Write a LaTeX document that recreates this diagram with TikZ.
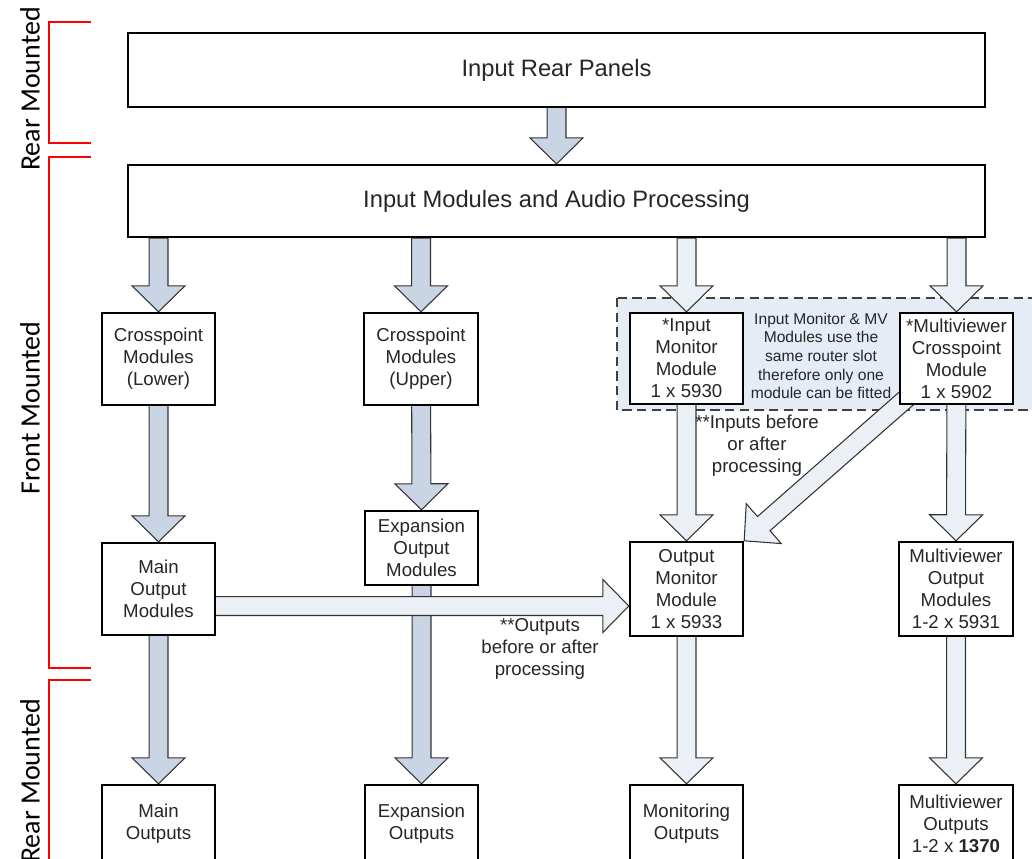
\documentclass[tikz,border=0pt]{standalone}
\usepackage{fontspec}
\setmainfont{Liberation Sans}
\newfontfamily\sidefont{Carlito}
\usetikzlibrary{calc}

\definecolor{darkfill}{HTML}{C9D5E5}
\definecolor{lightfill}{HTML}{EBF0F6}
\definecolor{slotfill}{HTML}{E6ECF6}

\pgfdeclarelayer{background}
\pgfsetlayers{background,main}

% block arrow: fill colour, tail, tip
\newcommand{\fatarrow}[3]{%
  \coordinate (fa-h) at ($(#3)!19.5pt!(#2)$);
  \filldraw[fatline, fill=#1]
    ($(#2)!7.1pt!90:(#3)$) -- ($(fa-h)!7.1pt!90:(#3)$) -- ($(fa-h)!19.9pt!90:(#3)$)
    -- (#3) -- ($(fa-h)!19.9pt!-90:(#3)$) -- ($(fa-h)!7.1pt!-90:(#3)$)
    -- ($(#2)!7.1pt!-90:(#3)$) -- cycle;
}

\begin{document}
\begin{tikzpicture}[x=0.75pt, y=-0.75pt,
    box/.style={draw, line width=1.8pt, fill=white, text=black!85, align=center,
      inner sep=0pt, font=\fontsize{14}{16.5}\selectfont},
    widebox/.style={box, line width=1.6pt, font=\fontsize{17.8}{21}\selectfont},
    boxsize/.style 2 args={minimum width=#1*0.75pt, minimum height=#2*0.75pt},
    remark/.style={align=center, text=black!85, inner sep=0pt,
      font=\fontsize{14}{16.5}\selectfont},
    slotnote/.style={align=center, text=black!85, inner sep=0pt,
      font=\fontsize{11.7}{14}\selectfont},
    mount/.style={rotate=90, inner sep=0pt, font=\sidefont\fontsize{21}{25}\selectfont},
    bracket/.style={red, line width=1.1pt},
    fatline/.style={draw=black!80, line width=0.8pt, line join=miter}]

    \useasboundingbox (0,0) rectangle (1032,859);
    \clip (0,0) rectangle (1032,859);

    % Mounting brackets
    \draw[bracket] (91,22) -- (49,22) -- (49,143) -- (91,143);
    \draw[bracket] (91,157) -- (49,157) -- (49,668) -- (91,668);
    \draw[bracket] (91,680) -- (49,680) -- (49,870);
    \node[mount] (rear1) at (30,89) {Rear Mounted};
    \node[mount] (front) at (30,408) {Front Mounted};
    \node[mount] (rear2) at (30,781) {Rear Mounted};

    % Input side
    \node[widebox, boxsize={857}{74}] (rear) at (556.5,70) {Input Rear Panels};
    \node[widebox, boxsize={857}{72}] (inmod) at (556.5,201) {Input Modules and Audio Processing};

    % Crosspoint row
    \node[box, boxsize={113}{92}] (xlow) at (158.5,359) {Crosspoint\\Modules\\(Lower)};
    \node[box, boxsize={114}{92}] (xup) at (421,359) {Crosspoint\\Modules\\(Upper)};
    \node[box, boxsize={113}{91}] (inmon) at (686.5,358.5) {*Input\\Monitor\\Module\\1 x 5930};
    \node[box, boxsize={113}{91}] (mvx) at (956.5,358.5) {*Multiviewer\\Crosspoint\\Module\\1 x 5902};
    \node[slotnote] (slot) at (821,356) {Input Monitor \& MV\\Modules use the\\same router slot\\therefore only one\\module can be fitted};

    % Output module row
    \node[box, boxsize={113}{92}] (mainout) at (158.5,589) {Main\\Output\\Modules};
    \node[box, boxsize={113}{74}] (expout) at (421.5,548) {Expansion\\Output\\Modules};
    \node[box, boxsize={113}{94}] (outmon) at (686.5,589) {Output\\Monitor\\Module\\1 x 5933};
    \node[box, boxsize={114}{94}] (mvout) at (956,589) {Multiviewer\\Output\\Modules\\1-2 x 5931};
    \node[remark] (innote) at (757,446) {**Inputs before\\or after\\processing};
    \node[remark] (outnote) at (540,649) {**Outputs\\before or after\\processing};

    % Rear outputs
    \node[box, boxsize={113}{77}] (mainop) at (158.5,823.5) {Main\\Outputs};
    \node[box, boxsize={113}{77}] (expop) at (421.5,823.5) {Expansion\\Outputs};
    \node[box, boxsize={113}{77}] (monop) at (686.5,823.5) {Monitoring\\Outputs};
    \node[box, boxsize={114}{77}] (mvop) at (956,823.5) {Multiviewer\\Outputs\\1-2 x \textbf{1370}};

    \begin{pgfonlayer}{background}
        % Shared router slot
        \draw[fill=slotfill, draw=black!75, dash pattern=on 7pt off 4pt, line width=0.9pt] (617,298) rectangle (1060,410);

        % Into the frame
        \fatarrow{darkfill}{rear}{inmod.north}

        % Column 1
        \fatarrow{darkfill}{inmod.south -| xlow.north}{xlow.north}
        \fatarrow{darkfill}{xlow}{mainout.north}
        \fatarrow{darkfill}{mainout}{mainop.north}
        % Column 2
        \fatarrow{darkfill}{inmod.south -| xup.north}{xup.north}
        \fatarrow{darkfill}{xup}{expout.north}
        \fatarrow{darkfill}{expout}{expop.north}
        % Column 3
        \fatarrow{lightfill}{inmod.south -| inmon.north}{inmon.north}
        \fatarrow{lightfill}{inmon}{outmon.north}
        \fatarrow{lightfill}{outmon}{monop.north}
        % Column 4
        \fatarrow{lightfill}{inmod.south -| mvx.north}{mvx.north}
        \fatarrow{lightfill}{mvx}{mvout.north}
        \fatarrow{lightfill}{mvout}{mvop.north}

        % Multiviewer crosspoint to output monitor
        \coordinate (dg-a) at ($(mvx.south west)+(8.4pt,7.5pt)$);
        \fatarrow{lightfill}{dg-a}{outmon.north east}

        % Main outputs to output monitor
        \coordinate (hz-a) at ([yshift=-12.75pt]mainout.center);
        \coordinate (hz-b) at ([yshift=-12.75pt]outmon.west);
        \fatarrow{lightfill}{hz-a}{hz-b}
    \end{pgfonlayer}

\end{tikzpicture}
\end{document}
